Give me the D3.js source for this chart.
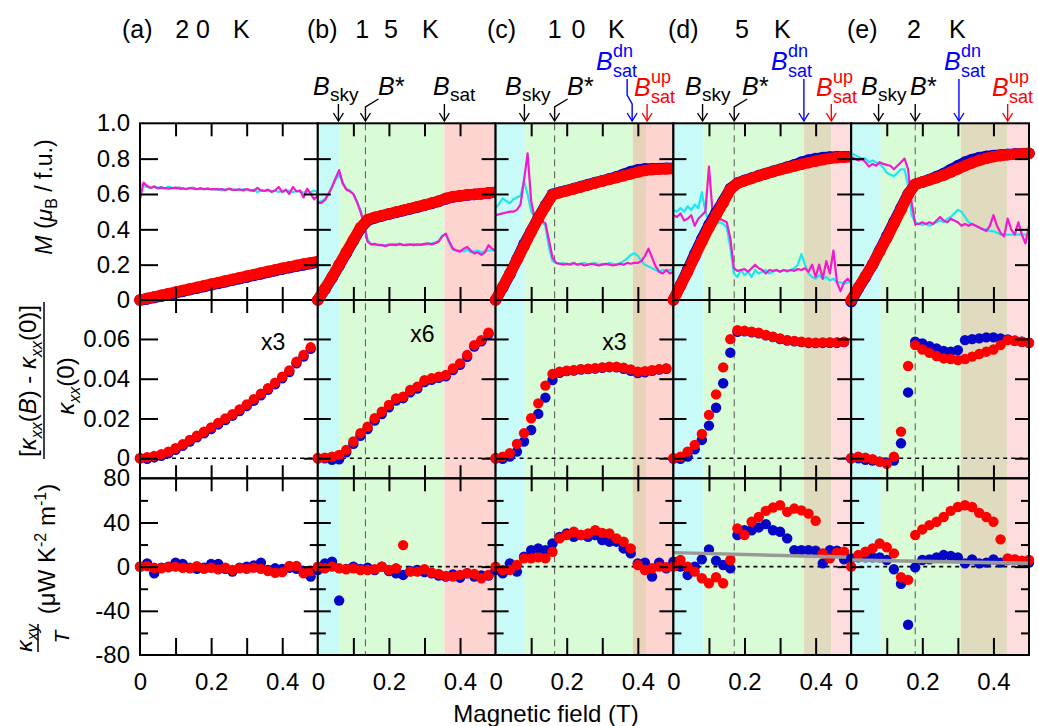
<!DOCTYPE html>
<meta charset="utf-8">
<style>
  body{ margin:0; background:#fff; }
  svg text{ font-family:'Liberation Sans', Arial, sans-serif; }
</style>

<svg width="1038" height="726"></svg>

<script src="https://d3js.org/d3.v7.min.js"></script>
<script>
  // ---------- data ----------
  const panelTags = ['(a)', '(b)', '(c)', '(d)', '(e)']
  const temps = ['2 0', '1 5', '1 0', '5', '2']

  // field grid of the markers (T)
  const field = [0,0.02,0.04,0.06,0.08,0.1,0.12,0.14,0.16,0.18,0.2,0.22,0.24,0.26,0.28,0.3,0.32,0.34,0.36,0.38,0.4,0.42,0.44,0.46,0.48,0.5]
  // field grid of the cyan / magenta curves (T)
  const fieldLine = [0,0.01,0.02,0.03,0.04,0.05,0.06,0.07,0.08,0.09,
    0.1,0.11,0.12,0.13,0.14,0.15,0.16,0.17,0.18,0.19,
    0.2,0.21,0.22,0.23,0.24,0.25,0.26,0.27,0.28,0.29,
    0.3,0.31,0.32,0.33,0.34,0.35,0.36,0.37,0.38,0.39,
    0.4,0.41,0.42,0.43,0.44,0.45,0.46,0.47,0.48,0.49,0.5]

  // magnetization M (muB / f.u.)
  const mRed = [
    [0,0.009,0.018,0.027,0.036,0.045,0.054,0.063,0.072,0.081,0.09,0.099,0.108,0.117,0.126,0.135,0.144,0.153,0.162,0.171,0.18,0.188,0.196,0.204,0.211,0.218],
    [0,0.065,0.13,0.2,0.27,0.34,0.41,0.455,0.468,0.478,0.488,0.498,0.508,0.518,0.528,0.538,0.549,0.56,0.575,0.585,0.59,0.595,0.598,0.602,0.606,0.61],
    [0,0.075,0.15,0.225,0.305,0.385,0.46,0.53,0.595,0.607,0.618,0.629,0.64,0.651,0.662,0.673,0.683,0.693,0.703,0.713,0.724,0.733,0.738,0.74,0.742,0.743],
    [0,0.08,0.16,0.245,0.33,0.41,0.48,0.55,0.625,0.66,0.675,0.688,0.702,0.714,0.726,0.737,0.748,0.758,0.768,0.777,0.786,0.794,0.801,0.806,0.808,0.81],
    [0,0.07,0.135,0.2,0.275,0.35,0.43,0.51,0.595,0.655,0.667,0.679,0.692,0.707,0.724,0.742,0.76,0.776,0.79,0.802,0.811,0.817,0.822,0.825,0.827,0.83]
  ]
  const mBlue = [
    [0,0.006,0.014,0.022,0.031,0.04,0.049,0.058,0.067,0.076,0.085,0.094,0.103,0.112,0.121,0.13,0.139,0.148,0.157,0.166,0.175,0.183,0.191,0.199,0.206,0.213],
    [0,0.06,0.125,0.195,0.265,0.335,0.405,0.45,0.465,0.476,0.486,0.496,0.506,0.516,0.526,0.536,0.547,0.558,0.572,0.583,0.589,0.594,0.597,0.601,0.605,0.609],
    [0,0.07,0.145,0.23,0.315,0.39,0.465,0.535,0.598,0.61,0.62,0.631,0.642,0.653,0.664,0.675,0.686,0.697,0.712,0.727,0.737,0.742,0.743,0.744,0.745,0.746],
    [0,0.085,0.17,0.26,0.345,0.425,0.495,0.56,0.63,0.662,0.677,0.69,0.704,0.716,0.728,0.74,0.752,0.765,0.78,0.792,0.8,0.806,0.809,0.81,0.811,0.812],
    [-0.01,0.065,0.13,0.2,0.28,0.36,0.44,0.52,0.6,0.655,0.668,0.682,0.698,0.716,0.738,0.76,0.78,0.795,0.806,0.813,0.818,0.821,0.824,0.826,0.828,0.83]
  ]
  const mMagenta = [
    [0.57,0.665,0.645,0.635,0.64,0.632,0.636,0.634,0.63,0.633,
     0.636,0.63,0.632,0.628,0.634,0.63,0.627,0.632,0.628,0.63,
     0.626,0.629,0.625,0.628,0.622,0.63,0.625,0.623,0.627,0.62,
     0.628,0.622,0.618,0.635,0.62,0.617,0.625,0.612,0.62,0.64,
     0.61,0.625,0.6,0.64,0.615,0.62,0.58,0.63,0.6,0.57,0.59],
    [0.55,0.55,0.565,0.6,0.64,0.69,0.735,0.66,0.625,0.615,
     0.6,0.555,0.5,0.43,0.33,0.315,0.318,0.31,0.312,0.305,
     0.312,0.315,0.31,0.318,0.312,0.31,0.315,0.31,0.315,0.312,
     0.318,0.32,0.315,0.322,0.33,0.36,0.375,0.33,0.29,0.28,
     0.274,0.29,0.3,0.28,0.264,0.27,0.255,0.27,0.31,0.29,0.28],
    [0.48,0.485,0.49,0.495,0.5,0.5,0.51,0.54,0.68,0.83,
     0.56,0.46,0.45,0.445,0.435,0.34,0.24,0.21,0.205,0.2,
     0.205,0.2,0.21,0.2,0.205,0.195,0.2,0.205,0.2,0.195,
     0.2,0.205,0.2,0.195,0.2,0.205,0.2,0.21,0.205,0.21,
     0.21,0.22,0.25,0.29,0.24,0.19,0.16,0.15,0.17,0.15,0.16],
    [0.48,0.47,0.49,0.45,0.46,0.48,0.42,0.46,0.48,0.5,
     0.755,0.5,0.47,0.46,0.45,0.44,0.35,0.18,0.165,0.17,
     0.175,0.16,0.18,0.2,0.18,0.17,0.15,0.17,0.165,0.17,
     0.16,0.17,0.165,0.17,0.165,0.175,0.17,0.18,0.16,0.2,
     0.13,0.2,0.12,0.22,0.15,0.28,0.1,0.05,0.1,0.12,0.1],
    [0.81,0.8,0.79,0.8,0.78,0.755,0.77,0.76,0.78,0.77,
     0.765,0.76,0.74,0.76,0.78,0.8,0.74,0.55,0.43,0.43,
     0.44,0.43,0.44,0.43,0.45,0.47,0.45,0.44,0.46,0.45,
     0.44,0.42,0.43,0.42,0.43,0.42,0.41,0.4,0.39,0.42,
     0.48,0.42,0.38,0.36,0.46,0.4,0.37,0.44,0.37,0.32,0.42]
  ]
  const mCyan = [
    [0.66,0.645,0.64,0.632,0.645,0.635,0.64,0.63,0.642,0.635,
     0.632,0.638,0.63,0.627,0.633,0.636,0.628,0.632,0.626,0.63,
     0.628,0.625,0.63,0.62,0.625,0.628,0.622,0.625,0.62,0.627,
     0.624,0.618,0.625,0.61,0.622,0.618,0.62,0.615,0.62,0.612,
     0.618,0.615,0.62,0.61,0.617,0.612,0.608,0.615,0.61,0.62,0.61],
    [0.55,0.56,0.57,0.6,0.64,0.68,0.71,0.665,0.63,0.62,
     0.6,0.56,0.51,0.44,0.34,0.315,0.31,0.315,0.308,0.31,
     0.315,0.31,0.318,0.312,0.31,0.316,0.312,0.318,0.31,0.315,
     0.312,0.318,0.32,0.325,0.335,0.365,0.37,0.32,0.285,0.28,
     0.28,0.275,0.285,0.27,0.275,0.28,0.27,0.275,0.28,0.28,0.28],
    [0.52,0.545,0.575,0.56,0.548,0.57,0.58,0.59,0.67,0.6,
     0.5,0.47,0.46,0.45,0.42,0.3,0.22,0.21,0.205,0.21,
     0.2,0.205,0.21,0.2,0.205,0.21,0.2,0.205,0.21,0.2,
     0.205,0.2,0.21,0.205,0.2,0.21,0.22,0.235,0.255,0.265,
     0.25,0.22,0.2,0.19,0.18,0.17,0.16,0.17,0.165,0.17,0.17],
    [0.51,0.5,0.52,0.5,0.53,0.51,0.54,0.52,0.61,0.5,
     0.44,0.45,0.43,0.44,0.43,0.41,0.3,0.15,0.13,0.17,
     0.14,0.16,0.13,0.17,0.15,0.16,0.17,0.15,0.16,0.17,
     0.16,0.17,0.16,0.17,0.18,0.2,0.26,0.2,0.15,0.13,
     0.12,0.14,0.12,0.13,0.11,0.12,0.1,0.1,0.09,0.1,0.1],
    [0.83,0.82,0.81,0.8,0.8,0.78,0.79,0.78,0.77,0.75,
     0.72,0.71,0.7,0.72,0.74,0.74,0.65,0.48,0.44,0.43,
     0.425,0.43,0.42,0.43,0.44,0.45,0.44,0.46,0.47,0.49,
     0.51,0.5,0.47,0.44,0.43,0.42,0.41,0.4,0.4,0.39,
     0.39,0.38,0.37,0.37,0.37,0.37,0.37,0.37,0.37,0.37,0.37]
  ]

  // [kxx(B) - kxx(0)] / kxx(0)
  const kxxRed = [
    [0,0.0005,0.0012,0.002,0.0033,0.005,0.007,0.0092,0.0113,0.0133,0.0155,0.0178,0.02,0.0222,0.0245,0.027,0.0297,0.0325,0.0352,0.038,0.041,0.0442,0.0485,0.052,0.0558,null],
    [0,0.0003,0.0008,0.0017,0.0042,0.0084,0.0126,0.0159,0.0201,0.0234,0.0268,0.0301,0.031,0.0343,0.036,0.0393,0.0402,0.041,0.0419,0.0452,0.0477,0.0519,0.0569,0.0594,0.0631,null],
    [0,0.0008,0.0025,0.0072,0.0126,0.0201,0.0276,0.0365,0.0424,0.0435,0.044,0.0443,0.0448,0.045,0.0453,0.0457,0.046,0.046,0.0455,0.0447,0.0435,0.0438,0.0443,0.0448,0.0452,null],
    [0,0.0008,0.0033,0.0067,0.0122,0.0218,0.0321,0.0457,0.0599,0.0644,0.0641,0.0636,0.0631,0.062,0.0611,0.0603,0.0594,0.059,0.0586,0.0583,0.0581,0.0583,0.0583,0.0583,0.0586,null],
    [0,0.0008,0.0003,-0.0005,-0.0017,-0.0028,0.0008,0.0134,0.0464,0.0569,0.0547,0.053,0.0514,0.0502,0.0499,0.0494,0.0499,0.0511,0.0524,0.0536,0.0547,0.0569,0.0594,0.0591,0.0586,0.0581]
  ]
  const kxxBlue = [
    [0,-0.0003,0.0004,0.0012,0.0025,0.0042,0.0062,0.0084,0.0105,0.0125,0.0147,0.017,0.0192,0.0214,0.0237,0.0262,0.0289,0.0317,0.0344,0.0372,0.0402,0.0434,0.0477,0.0512,0.055,null],
    [0,0,-0.0008,-0.0005,0.003,0.0072,0.0113,0.0147,0.019,0.0222,0.0256,0.029,0.0302,0.0332,0.035,0.0383,0.0395,0.0405,0.0412,0.0444,0.047,0.051,0.0562,0.0588,0.0625,null],
    [0,-0.0003,0.0008,0.0033,0.0084,0.0142,0.0223,0.0305,0.0393,0.043,0.0438,0.0441,0.0446,0.0448,0.0451,0.0455,0.0458,0.0457,0.045,0.044,0.0428,0.0432,0.044,0.0446,0.045,null],
    [-0.0002,-0.0003,0.0008,0.0045,0.0092,0.0164,0.0254,0.0377,0.0531,0.0636,0.0638,0.0634,0.0628,0.0618,0.061,0.06,0.0592,0.0588,0.0584,0.058,0.0579,0.058,0.0581,0.0581,0.0584,null],
    [0,0,-0.0008,-0.0012,-0.0017,-0.0022,-0.0012,0.0075,0.0331,0.0586,0.0578,0.0564,0.0552,0.054,0.0536,0.0544,0.0594,0.0599,0.0603,0.0608,0.0608,0.0603,0.0598,0.0591,0.0586,0.0581]
  ]

  // kxy / T (uW K^-2 m^-1)
  const kxyRed = [
    [0,0.5,-1,-1.5,-0.5,0,-1,-1.5,0.5,-2,-1,-2.5,-1,-3,-1.5,-2,-1,-2,-4,-5.5,-5,0.6,0.6,-6,-4,null],
    [0,-1.5,0,-1.5,-2.4,-1.5,-3,-3,-2.4,0,-3,-1.5,19.5,-4.5,-4.5,-2.4,-5.4,-6.6,-8.4,-9,-7.5,-6,-6.6,-10.5,-7.5,null],
    [0,-3,-3,1.5,7.5,7.5,8.4,7.5,13.5,25.6,28.6,31.6,28.6,30,33,30.6,30,25.6,22.6,16.5,1.5,-3,-1.5,0,-0.6,null],
    [0,6,0,-4.5,-10.5,-15,-9.6,-15,6,34.6,28.6,40.6,45,50.5,53.5,55.6,49.6,52.6,51,48,41.5,12,7.5,12.6,13.5,null],
    [0,10.5,13.5,16.5,21,17.5,12,-9.6,-12,28.6,33.7,37.6,40.6,45,50.5,54,55.6,54,48.7,45,40.6,24.7,7.5,6.6,5.4,6]
  ]
  const kxyBlue = [
    [0,3,-6,-1,0,3.6,2.4,-1,-2,-1,2.4,2.4,-2,-4.5,-1,0,1,3.6,-3,-1.5,-2,-1,-2,-4,-9,null],
    [-3,3,4.5,-30.7,-2,0,-2,-1,-3,0,-4,-6,-7.5,-4,-3,-5,-6,-8,-9,-7,-10,-6,-9,-8,-8,null],
    [-3,-6,3,-4.5,9,15,16.5,15,21,27,30,27,28.6,27,28.6,24,22.6,22.6,16.5,12,3,3.6,-9,3.6,-1.5,null],
    [4.5,0,-7.5,0,6.6,15.6,5.4,1.5,-1.5,28.6,33,33,35.5,38.5,33,31.6,25.6,15,15,15,14.4,3,15,14.4,6.6,null],
    [7.5,8.4,8.4,8.4,8.4,6,-2.4,-15.6,-52.6,-0.6,6,6.6,8.4,10.5,9.6,8.4,3,6.6,3,3.6,6.6,3.6,6,6,3.6,3.6]
  ]
  // gray reference line in kxy/T at B = 0 and B = 0.5 T
  const grayStart = [null, null, null, 12.7, 6.1]
  const grayEnd = [null, null, null, 8.5, 3.0]

  // characteristic fields (T)
  const skyEnd = [null, 0.06, 0.082, 0.084, 0.083]
  const greenEnd = [null, 0.356, 0.386, 0.367, 0.308]
  const tanEnd = [null, null, 0.423, 0.444, 0.44]
  const bStar = [null, 0.134, 0.166, 0.171, 0.18]
  const bSkyArrow = [null, 0.058, 0.081, 0.082, 0.077]
  const bSatDn = [null, 0.356, 0.384, 0.367, 0.303]
  const bSatUp = [null, null, 0.426, 0.444, 0.44]
  const scaleNote = ['x3', 'x6', 'x3', null, null]
  const scaleNoteB = [0.34, 0.26, 0.3, null, null]

  // ---------- layout ----------
  const left0 = 140, panelW = 177.8
  const rowM = [123.3, 300], rowK = [300, 478.3], rowH = [478.3, 655]
  const red = '#ff0000', blue = '#0505c8', cyan = '#1ee6ee', magenta = '#ee1ccc'
  const cyanBg = '#c8fbf8', greenBg = '#d9fbd5', tanBg = ['', '', '#e6d3b8', '#e0dbbf', '#e0dbbf']
  const pinkBg = ['', '#fdd4d0', '#fdd4d0', '#fddcde', '#fddcde']

  const svg = d3.select('svg')
  const yM = d3.scaleLinear().domain([0, 1]).range([rowM[1], rowM[0]])
  const yK = d3.scaleLinear().domain([-0.0101, 0.0796]).range([rowK[1], rowK[0]])
  const yH = d3.scaleLinear().domain([-80, 80]).range([rowH[1], rowH[0]])

  function arrow(pts, color){
    svg.append('path').attr('d', d3.line()(pts)).attr('fill', 'none')
      .attr('stroke', color).attr('stroke-width', 1.4)
    const [tx, ty] = pts[pts.length-1]
    svg.append('path').attr('d', `M${tx-5},${ty-8}L${tx},${ty}L${tx+5},${ty-8}`)
      .attr('fill', 'none').attr('stroke', color).attr('stroke-width', 1.4)
  }

  function bLabel(x, y, color, sub, sup, star){
    svg.append('text').attr('x', x).attr('y', y).style('fill', color)
      .style('font-size', '25px').style('font-style', 'italic').text('B')
    if(star) svg.append('text').attr('x', x+17).attr('y', y).style('fill', color)
      .style('font-size', '25px').text('*')
    if(sub) svg.append('text').attr('x', x+17).attr('y', y + (sup ? 7 : 6)).style('fill', color)
      .style('font-size', sup ? '18px' : '19px').text(sub)
    if(sup) svg.append('text').attr('x', x+17).attr('y', y-13).style('fill', color)
      .style('font-size', '18px').text(sup)
  }

  function dots(g, x, y, vals, color, r){
    g.selectAll(null)
      .data(vals.map((v, i) => [field[i], v]).filter(d => d[1] !== null))
      .enter().append('circle')
      .attr('cx', d => x(d[0])).attr('cy', d => y(d[1]))
      .attr('r', r).attr('fill', color)
  }

  function thickLine(g, x, vals, color){
    const pts = vals.map((v, i) => [field[i], v])
    g.append('path')
      .attr('d', d3.line().x(d => x(d[0])).y(d => yM(d[1]))(pts))
      .attr('fill', 'none').attr('stroke', color).attr('stroke-width', 11)
      .attr('stroke-linecap', 'round').attr('stroke-linejoin', 'round')
    dots(g, x, yM, vals, color, 5.8)
  }

  function thinLine(g, x, vals, color){
    const pts = vals.map((v, i) => [fieldLine[i], v])
    g.append('path')
      .attr('d', d3.line().x(d => x(d[0])).y(d => yM(d[1]))(pts))
      .attr('fill', 'none').attr('stroke', color).attr('stroke-width', 2.2)
      .attr('stroke-linejoin', 'round')
  }

  function ticks(g, x, y, top, bottom, majors, minors, i){
    const xt = [0.1, 0.2, 0.3, 0.4]
    const leftLen = i === 0 ? 18 : 13
    const parts = [
      [d3.axisTop(x).tickValues(xt).tickSizeInner(-13), `translate(0,${top})`],
      [d3.axisBottom(x).tickValues(xt).tickSizeInner(bottom === rowH[1] ? -17 : -13), `translate(0,${bottom})`],
      [d3.axisLeft(y).tickValues(majors).tickSizeInner(-leftLen), `translate(${x.range()[0]},0)`],
      [d3.axisRight(y).tickValues(majors).tickSizeInner(-14), `translate(${x.range()[1]},0)`]
    ]
    if(minors.length){
      parts.push([d3.axisLeft(y).tickValues(minors).tickSizeInner(-8), `translate(${x.range()[0]},0)`])
      parts.push([d3.axisRight(y).tickValues(minors).tickSizeInner(-8), `translate(${x.range()[1]},0)`])
    }
    parts.forEach(([ax, tr]) => {
      g.append('g').attr('transform', tr).attr('stroke-width', 2)
        .call(ax.tickSizeOuter(0).tickFormat(''))
        .call(a => a.select('.domain').remove())
    })
    g.append('rect').attr('x', x.range()[0]).attr('y', top)
      .attr('width', x.range()[1] - x.range()[0]).attr('height', bottom - top)
      .attr('fill', 'none').attr('stroke', '#000').attr('stroke-width', 2)
  }

  // ---------- panels ----------
  panelTags.forEach((tag, i) => {
    const x = d3.scaleLinear().domain([0, 0.5]).range([left0 + i*panelW, left0 + (i+1)*panelW])
    const g = svg.append('g')

    // field regions
    if(i > 0){
      const stops = [0, skyEnd[i], greenEnd[i]]
      const cols = [cyanBg, greenBg]
      if(tanEnd[i]){ stops.push(tanEnd[i]); cols.push(tanBg[i]) }
      stops.push(0.5); cols.push(pinkBg[i])
      cols.forEach((c, k) => {
        g.append('rect').attr('x', x(stops[k])).attr('y', rowM[0])
          .attr('width', x(stops[k+1]) - x(stops[k])).attr('height', rowH[1] - rowM[0])
          .attr('fill', c)
      })
      g.append('line').attr('x1', x(bStar[i])).attr('x2', x(bStar[i]))
        .attr('y1', rowM[0]).attr('y2', rowH[1])
        .attr('stroke', '#555').attr('stroke-width', 1).attr('stroke-dasharray', '7,5')
    }

    // zero lines
    ;[yK(0), yH(0)].forEach(yy => {
      g.append('line').attr('x1', x(0)).attr('x2', x(0.5)).attr('y1', yy).attr('y2', yy)
        .attr('stroke', '#000').attr('stroke-width', 1.6).attr('stroke-dasharray', '4,4')
    })

    // magnetization row
    thinLine(g, x, mCyan[i], cyan)
    thinLine(g, x, mMagenta[i], magenta)
    thickLine(g, x, mBlue[i], blue)
    thickLine(g, x, mRed[i], red)

    // kxx row
    dots(g, x, yK, kxxBlue[i], blue, 5.2)
    dots(g, x, yK, kxxRed[i], red, 5.2)

    // kxy row
    dots(g, x, yH, kxyBlue[i], blue, 5.2)
    dots(g, x, yH, kxyRed[i], red, 5.2)
    if(grayStart[i] !== null){
      g.append('line').attr('x1', x(0)).attr('x2', x(0.5))
        .attr('y1', yH(grayStart[i])).attr('y2', yH(grayEnd[i]))
        .attr('stroke', '#999').attr('stroke-width', 3.5)
    }

    ticks(g, x, yM, rowM[0], rowM[1], [0.2, 0.4, 0.6, 0.8], [], i)
    ticks(g, x, yK, rowK[0], rowK[1], [0, 0.02, 0.04, 0.06], [], i)
    ticks(g, x, yH, rowH[0], rowH[1], [-40, 0, 40], [-60, -20, 20, 60], i)

    // x tick labels
    g.append('g').attr('transform', `translate(0,${rowH[1]})`)
      .call(d3.axisBottom(x).tickValues([0, 0.2, 0.4]).tickSize(0).tickPadding(18)
        .tickFormat(d => d === 0 ? '0' : d.toFixed(1)))
      .attr('font-size', 24)
      .call(a => a.select('.domain').remove())

    if(scaleNote[i]){
      g.append('text').attr('x', x(scaleNoteB[i])).attr('y', i === 1 ? 342 : 350)
        .style('font-size', '23px').text(scaleNote[i])
    }
  })

  // y tick labels (panel a)
  const xa = left0
  ;[[yM, [0, 0.2, 0.4, 0.6, 0.8, 1.0], d => d === 0 ? '0' : d.toFixed(1)],
    [yK, [0, 0.02, 0.04, 0.06], d => d === 0 ? '0' : d.toFixed(2)],
    [yH, [-80, -40, 0, 40, 80], d => d]
  ].forEach(([y, vals, fmt]) => {
    svg.append('g').attr('transform', `translate(${xa},0)`)
      .call(d3.axisLeft(y).tickValues(vals).tickSize(0).tickPadding(10).tickFormat(fmt))
      .attr('font-size', 24)
      .call(a => a.select('.domain').remove())
  })

  // titles
  const titleX = [122, 307, 487, 668, 847]
  const digitEnd = [210, 402, 587, 749, 921]
  const digitGap = [0, 4, 1.5, 0, 0]
  const kX = [233, 422, 608, 774, 949]
  panelTags.forEach((tag, i) => {
    svg.append('text').attr('x', titleX[i]).attr('y', 38).style('font-size', '25px').text(tag)
    svg.append('text').attr('x', digitEnd[i]).attr('y', 38).attr('text-anchor', 'end')
      .attr('xml:space', 'preserve').style('white-space', 'pre')
      .style('letter-spacing', digitGap[i] + 'px').style('font-size', '25px').text(temps[i])
    svg.append('text').attr('x', kX[i]).attr('y', 38).style('font-size', '25px').text('K')
  })

  // field annotations
  const skyLabelX = [null, 313, 505, 685, 861]
  const starLabelX = [null, 378, 567, 742, 910]
  const dnLabelX = [null, 433, 596, 771, 944]
  const upLabelX = [null, null, 634, 816, 992]
  const tip = 121
  for(let i = 1; i < 5; i++){
    const x = d3.scaleLinear().domain([0, 0.5]).range([left0 + i*panelW, left0 + (i+1)*panelW])
    bLabel(skyLabelX[i], 95, '#000', 'sky')
    bLabel(starLabelX[i], 95, '#000', null, null, true)
    arrow([[x(bSkyArrow[i]), 104], [x(bSkyArrow[i]), tip]], '#000')
    const xs = x(bStar[i])
    if(i < 4) arrow([[xs + 13, 99], [xs, 107], [xs, tip]], '#000')
    else arrow([[xs, 104], [xs, tip]], '#000')
    if(i === 1){
      bLabel(dnLabelX[i], 95, '#000', 'sat')
      arrow([[x(bSatDn[i]), 104], [x(bSatDn[i]), tip]], '#000')
    } else {
      bLabel(dnLabelX[i], 70, '#0000ff', 'sat', 'dn')
      bLabel(upLabelX[i], 96, '#ff0000', 'sat', 'up')
      const xd = x(bSatDn[i])
      if(i === 2) arrow([[xd - 5, 79], [xd - 5, 95], [xd, 104], [xd, tip]], '#0000ff')
      else arrow([[xd, 79], [xd, tip]], '#0000ff')
      arrow([[x(bSatUp[i]), 104], [x(bSatUp[i]), tip]], '#ff0000')
    }
  }

  // axis titles
  const tM = svg.append('text').attr('transform', 'translate(52,197) rotate(-90)')
    .attr('text-anchor', 'middle').style('font-size', '23px')
  tM.append('tspan').style('font-style', 'italic').text('M')
  tM.append('tspan').text(' (')
  tM.append('tspan').style('font-style', 'italic').text('μ')
  tM.append('tspan').attr('dy', 5).style('font-size', '16px').text('B')
  tM.append('tspan').attr('dy', -5).text(' / f.u.)')

  function kappa(t, sub){
    t.append('tspan').style('font-style', 'italic').text('κ')
    t.append('tspan').attr('dy', 6).style('font-size', '16px').style('font-style', 'italic').text(sub)
  }
  const tNum = svg.append('text').attr('transform', 'translate(36,381) rotate(-90)')
    .attr('text-anchor', 'middle').style('font-size', '24px')
  tNum.append('tspan').text('[')
  kappa(tNum, 'xx')
  tNum.append('tspan').attr('dy', -6).text('(')
  tNum.append('tspan').style('font-style', 'italic').text('B')
  tNum.append('tspan').text(') - ')
  kappa(tNum, 'xx')
  tNum.append('tspan').attr('dy', -6).text('(0)]')
  svg.append('line').attr('x1', 44).attr('x2', 44).attr('y1', 302).attr('y2', 459)
    .attr('stroke', '#000').attr('stroke-width', 1.5)
  const tDen = svg.append('text').attr('transform', 'translate(74,386) rotate(-90)')
    .attr('text-anchor', 'middle').style('font-size', '24px')
  kappa(tDen, 'xx')
  tDen.append('tspan').attr('dy', -6).text('(0)')

  const tXy = svg.append('text').attr('transform', 'translate(32,638) rotate(-90)')
    .attr('text-anchor', 'middle').style('font-size', '23px')
  kappa(tXy, 'xy')
  svg.append('line').attr('x1', 38).attr('x2', 38).attr('y1', 624).attr('y2', 652)
    .attr('stroke', '#000').attr('stroke-width', 1.5)
  svg.append('text').attr('transform', 'translate(69,637) rotate(-90)')
    .attr('text-anchor', 'middle').style('font-size', '21px').style('font-style', 'italic').text('T')
  const tU = svg.append('text').attr('transform', 'translate(55,549) rotate(-90)')
    .attr('text-anchor', 'middle').style('font-size', '24px')
  tU.append('tspan').text('(μW K')
  tU.append('tspan').attr('dy', -9).style('font-size', '16px').text('-2')
  tU.append('tspan').attr('dy', 9).text(' m')
  tU.append('tspan').attr('dy', -9).style('font-size', '16px').text('-1')
  tU.append('tspan').attr('dy', 9).text(')')

  svg.append('text').attr('x', 546).attr('y', 722).attr('text-anchor', 'middle')
    .style('font-size', '24px').text('Magnetic field (T)')
</script>
